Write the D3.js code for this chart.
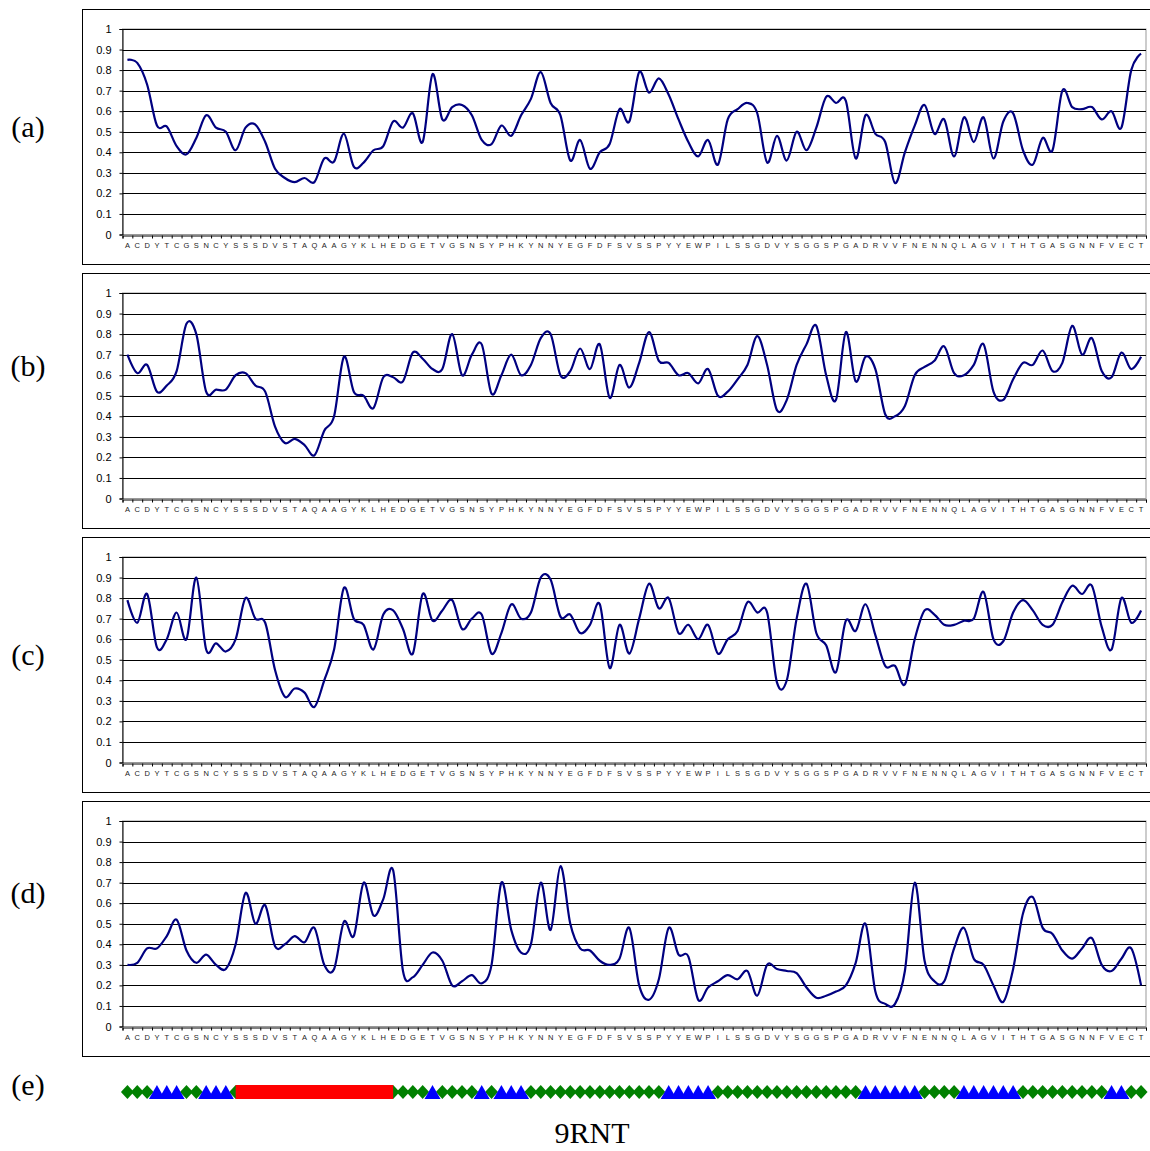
<!DOCTYPE html>
<html>
<head>
<meta charset="utf-8">
<script src="https://cdn.jsdelivr.net/npm/d3@7"></script>
<style>
  body { margin: 0; background: #fff; }
  svg { display: block; }
</style>
</head>
<body>
<div id="chart"></div>
<script>
// residues of 9RNT, one tick per residue
const residues = "ACDYTCGSNCYSSSDVSTAQAAGYKLHEDGETVGSNSYPHKYNNYEGFDFSVSSPYYEWPILSSGDVYSGGSPGADRVVFNENNQLAGVITHTGASGNNFVECT".split('');

const seriesA = [0.85,0.835,0.73,0.53,0.525,0.43,0.39,0.47,0.58,0.52,0.50,0.41,0.52,0.535,0.45,0.32,
  0.275,0.255,0.275,0.255,0.37,0.355,0.49,0.33,0.35,0.41,0.43,0.55,0.52,0.59,0.45,0.78,
  0.56,0.62,0.63,0.58,0.46,0.44,0.53,0.48,0.58,0.66,0.79,0.64,0.58,0.36,0.46,0.32,
  0.40,0.44,0.61,0.55,0.79,0.69,0.76,0.68,0.56,0.45,0.38,0.46,0.34,0.56,0.61,0.64,
  0.59,0.35,0.48,0.36,0.50,0.41,0.52,0.67,0.64,0.65,0.37,0.58,0.49,0.45,0.25,0.40,
  0.53,0.63,0.49,0.56,0.38,0.57,0.45,0.57,0.37,0.55,0.59,0.41,0.34,0.47,0.41,0.70,
  0.62,0.61,0.62,0.56,0.60,0.52,0.80,0.88];

const seriesB = [0.70,0.61,0.65,0.52,0.55,0.62,0.85,0.80,0.52,0.53,0.53,0.60,0.61,0.55,0.52,0.35,
  0.27,0.29,0.26,0.21,0.33,0.40,0.69,0.52,0.50,0.44,0.59,0.59,0.57,0.71,0.68,0.63,
  0.63,0.80,0.60,0.70,0.75,0.51,0.60,0.70,0.60,0.65,0.78,0.80,0.60,0.62,0.73,0.63,
  0.75,0.49,0.65,0.54,0.66,0.81,0.67,0.66,0.60,0.61,0.56,0.63,0.50,0.52,0.58,0.65,
  0.79,0.65,0.43,0.48,0.65,0.75,0.84,0.60,0.48,0.81,0.57,0.69,0.63,0.41,0.40,0.45,
  0.60,0.64,0.67,0.74,0.61,0.60,0.65,0.75,0.52,0.48,0.58,0.66,0.65,0.72,0.62,0.66,
  0.84,0.70,0.78,0.62,0.59,0.71,0.63,0.69];

const seriesC = [0.79,0.68,0.82,0.56,0.60,0.73,0.60,0.90,0.55,0.58,0.54,0.60,0.80,0.70,0.68,0.45,
  0.32,0.36,0.34,0.27,0.40,0.55,0.85,0.70,0.67,0.55,0.72,0.74,0.65,0.53,0.82,0.69,
  0.74,0.79,0.65,0.70,0.72,0.53,0.63,0.77,0.70,0.73,0.90,0.89,0.71,0.72,0.63,0.67,
  0.77,0.46,0.67,0.53,0.70,0.87,0.75,0.80,0.63,0.67,0.60,0.67,0.53,0.60,0.64,0.78,
  0.73,0.73,0.39,0.40,0.70,0.87,0.63,0.57,0.44,0.69,0.64,0.77,0.62,0.47,0.47,0.38,
  0.60,0.74,0.72,0.67,0.67,0.69,0.70,0.83,0.60,0.59,0.73,0.79,0.74,0.67,0.67,0.78,
  0.86,0.82,0.86,0.66,0.55,0.80,0.68,0.74];

const seriesD = [0.30,0.31,0.38,0.38,0.44,0.52,0.37,0.31,0.35,0.30,0.28,0.40,0.65,0.50,0.59,0.39,
  0.40,0.44,0.41,0.48,0.30,0.28,0.51,0.44,0.70,0.54,0.62,0.76,0.27,0.24,0.30,0.36,
  0.32,0.20,0.22,0.25,0.21,0.30,0.70,0.47,0.36,0.40,0.70,0.47,0.78,0.50,0.38,0.37,
  0.32,0.30,0.33,0.48,0.20,0.13,0.23,0.48,0.35,0.34,0.13,0.19,0.22,0.25,0.23,0.27,
  0.15,0.30,0.28,0.27,0.26,0.19,0.14,0.15,0.17,0.20,0.31,0.50,0.17,0.11,0.11,0.27,
  0.70,0.32,0.22,0.22,0.38,0.48,0.33,0.30,0.20,0.12,0.28,0.55,0.63,0.48,0.45,0.37,
  0.33,0.38,0.43,0.30,0.27,0.33,0.38,0.20];

const panelLabels = ['(a)', '(b)', '(c)', '(d)'];
const yTicks = [0, 0.1, 0.2, 0.3, 0.4, 0.5, 0.6, 0.7, 0.8, 0.9, 1];

// secondary structure per residue: C coil, E strand, H helix
const ssCodes = ("CCCEEECCEEEC" + "HHHHHHHHHHHHHHH" + "CCCCECCCCECEEE" + "CCCCCCCCCCCCCC" +
  "EEEEE" + "CCCCCCCCCCCCCCC" + "EEEEEE" + "CCCC" + "EEEEEE" + "CCCCCCCCC" + "EE" + "CC").split('');

const W = 1150, H = 1151;
const serif = 'Liberation Serif, Times New Roman, serif';
const sans = 'Liberation Sans, Arial, sans-serif';
const svg = d3.select('#chart').append('svg').attr('width', W).attr('height', H);

const x = d3.scaleBand().domain(d3.range(residues.length)).range([122.5, 1146]);
const xEdge = d3.scaleLinear().domain([0, residues.length]).range([122.5, 1146]);
const cx = i => x(i) + x.bandwidth() / 2;

// label centres as placed in the figure
const labelY = [127, 366, 655, 893];

function drawPanel(values, label, top, ly) {
  const g = svg.append('g');
  const plotTop = top + 20, plotBot = top + 225.5;
  const y = d3.scaleLinear().domain([0, 1]).range([plotBot, plotTop]);

  g.append('rect').attr('x', 82.5).attr('y', top + 0.5).attr('width', 1090).attr('height', 255)
    .attr('fill', 'none').attr('stroke', '#000');

  // plot area border (grey)
  g.append('rect').attr('x', 122.5).attr('y', plotTop).attr('width', 1146 - 122.5).attr('height', plotBot - plotTop)
    .attr('fill', 'none').attr('stroke', '#999');

  g.append('g').selectAll('line').data(yTicks.filter(d => d > 0)).join('line')
    .attr('x1', 122.5).attr('x2', 1146)
    .attr('y1', d => Math.round(y(d)) + 0.5).attr('y2', d => Math.round(y(d)) + 0.5)
    .attr('stroke', '#000').attr('stroke-width', 1);

  const ya = g.append('g').attr('transform', 'translate(122.5,0)')
    .call(d3.axisLeft(y).tickValues(yTicks).tickSize(3).tickPadding(8).tickFormat(d => String(d)));
  ya.select('.domain').attr('stroke', '#000');
  ya.selectAll('text').attr('font-family', sans).attr('font-size', 11).attr('fill', '#000');

  const xt = g.append('g').attr('transform', `translate(0,${Math.round(plotBot) + 0.5})`)
    .call(d3.axisBottom(xEdge).tickValues(d3.range(residues.length + 1)).tickSize(3).tickFormat(''));
  xt.select('.domain').attr('stroke', '#000');

  const xl = g.append('g').attr('transform', `translate(0,${plotBot + 6})`)
    .call(d3.axisBottom(x).tickSize(0).tickPadding(2).tickFormat(i => residues[i]));
  xl.select('.domain').remove();
  xl.selectAll('text').attr('font-family', sans).attr('font-size', 7.5).attr('fill', '#222');

  const line = d3.line().x((d, i) => cx(i)).y(d => y(d)).curve(d3.curveCardinal.tension(0));
  g.append('path').datum(values).attr('d', line)
    .attr('fill', 'none').attr('stroke', '#000080').attr('stroke-width', 2.2);

  svg.append('text').attr('x', 28).attr('y', ly + 10)
    .attr('text-anchor', 'middle').attr('font-family', serif)
    .attr('font-size', 30).text(label);
}

[seriesA, seriesB, seriesC, seriesD].forEach((s, i) => drawPanel(s, panelLabels[i], 9 + 264 * i, labelY[i]));

// secondary structure track (e)
const trackY = 1092;
const ss = svg.append('g');
ss.selectAll('path.coil').data(d3.range(residues.length).filter(i => ssCodes[i] === 'C')).join('path')
  .attr('class', 'coil')
  .attr('d', i => `M${cx(i) - 6.5},${trackY} L${cx(i)},${trackY - 7} L${cx(i) + 6.5},${trackY} L${cx(i)},${trackY + 7} Z`)
  .attr('fill', '#008000');
ss.selectAll('path.strand').data(d3.range(residues.length).filter(i => ssCodes[i] === 'E')).join('path')
  .attr('class', 'strand')
  .attr('d', i => `M${cx(i) - 8},${trackY + 7} L${cx(i)},${trackY - 7} L${cx(i) + 8},${trackY + 7} Z`)
  .attr('fill', '#0000ff');
const helixIdx = d3.range(residues.length).filter(i => ssCodes[i] === 'H');
ss.append('rect').attr('x', cx(d3.min(helixIdx) - 1)).attr('y', trackY - 7)
  .attr('width', cx(d3.max(helixIdx) + 1) - cx(d3.min(helixIdx) - 1)).attr('height', 14)
  .attr('fill', '#ff0000');

svg.append('text').attr('x', 28).attr('y', 1095).attr('text-anchor', 'middle')
  .attr('font-family', serif).attr('font-size', 30).text('(e)');

svg.append('text').attr('x', 592).attr('y', 1143).attr('text-anchor', 'middle')
  .attr('font-family', serif).attr('font-size', 30).text('9RNT');
</script>
</body>
</html>
